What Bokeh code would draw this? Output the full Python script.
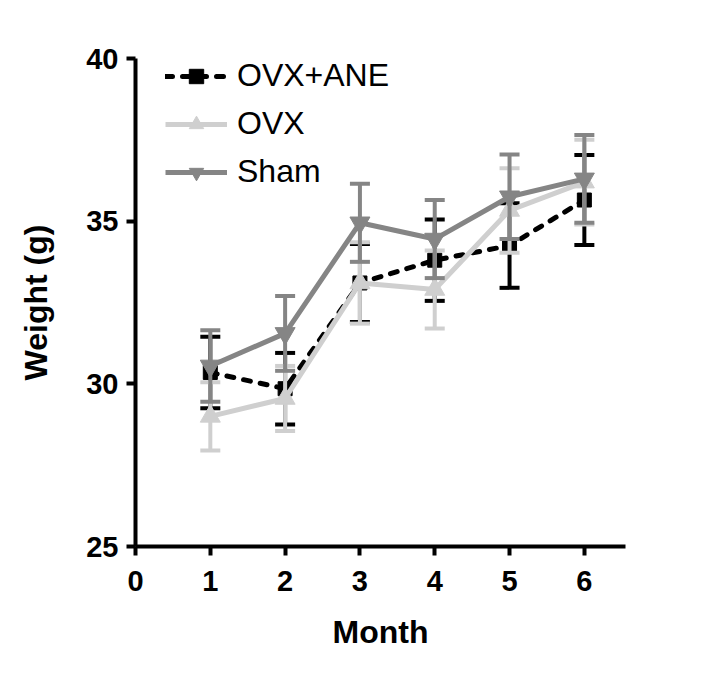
from bokeh.plotting import figure
from bokeh.models import Range1d, FixedTicker, Legend, LegendItem
from bokeh.embed import file_html
from bokeh.resources import INLINE

months = [1, 2, 3, 4, 5, 6]
ane_mean = [30.35, 29.85, 33.1, 33.8, 34.25, 35.65]
ane_err = [1.1, 1.1, 1.2, 1.25, 1.3, 1.38]
ovx_mean = [29.0, 29.55, 33.1, 32.9, 35.33, 36.2]
ovx_err = [1.05, 1.0, 1.25, 1.2, 1.3, 1.3]
sham_mean = [30.55, 31.55, 34.95, 34.45, 35.75, 36.3]
sham_err = [1.1, 1.15, 1.2, 1.2, 1.3, 1.35]

x_ticks = [0, 1, 2, 3, 4, 5, 6]
y_ticks = [25, 30, 35, 40]

FONT = "Liberation Sans"

p = figure(width=700, height=660, output_backend="svg", toolbar_location=None,
           x_range=Range1d(0, 6.55), y_range=Range1d(25, 40),
           min_border_left=135, min_border_top=58, min_border_right=75,
           min_border_bottom=114)
p.grid.visible = False
p.outline_line_color = None
p.background_fill_color = "white"

for ax in (p.xaxis[0], p.yaxis[0]):
    ax.axis_line_width = 4
    ax.axis_line_color = "black"
    ax.major_tick_line_width = 4
    ax.major_tick_line_color = "black"
    ax.major_tick_out = 9
    ax.major_tick_in = 0
    ax.minor_tick_line_color = None
    ax.major_label_text_font = FONT
    ax.major_label_text_font_style = "bold"
    ax.major_label_text_font_size = "29px"
    ax.major_label_text_color = "black"
    ax.axis_label_text_font = FONT
    ax.axis_label_text_font_style = "bold"
    ax.axis_label_text_font_size = "32px"
    ax.axis_label_text_color = "black"

p.xaxis.ticker = FixedTicker(ticks=x_ticks)
p.yaxis.ticker = FixedTicker(ticks=y_ticks)
p.xaxis.axis_label = "Month"
p.yaxis.axis_label = "Weight (g)"
p.xaxis.major_label_standoff = 15
p.yaxis.major_label_standoff = 8
p.xaxis.axis_label_standoff = 20
p.yaxis.axis_label_standoff = 29

series = [
    ("OVX+ANE", ane_mean, ane_err, "black", "square", 14, "7 10"),
    ("OVX", ovx_mean, ovx_err, "#cfcfcf", "triangle", 20, "solid"),
    ("Sham", sham_mean, sham_err, "#858585", "inverted_triangle", 20, "solid"),
]

items = []
for name, mean, err, color, marker, size, dash in series:
    lower = [m - e for m, e in zip(mean, err)]
    upper = [m + e for m, e in zip(mean, err)]
    p.segment(x0=months, y0=lower, x1=months, y1=upper, line_color=color, line_width=4)
    p.scatter(x=months, y=upper, marker="dash", size=20, line_color=color, line_width=4)
    p.scatter(x=months, y=lower, marker="dash", size=20, line_color=color, line_width=4)
    ln = p.line(x=months, y=mean, line_color=color, line_width=5, line_dash=dash,
                line_cap="round" if dash != "solid" else "butt")
    mk = p.scatter(x=months, y=mean, marker=marker, size=size, fill_color=color,
                   line_color=color)
    items.append(LegendItem(label=name, renderers=[ln, mk]))

legend = Legend(items=items, location=(30, 356))
legend.border_line_color = None
legend.background_fill_alpha = 0
legend.padding = 0
legend.margin = 0
legend.spacing = 11
legend.glyph_width = 62
legend.glyph_height = 36
legend.label_height = 36
legend.label_standoff = 10
legend.label_text_font = FONT
legend.label_text_font_size = "32px"
legend.label_text_color = "black"
p.add_layout(legend, "center")

open("out.html", "w").write(file_html(p, INLINE))
